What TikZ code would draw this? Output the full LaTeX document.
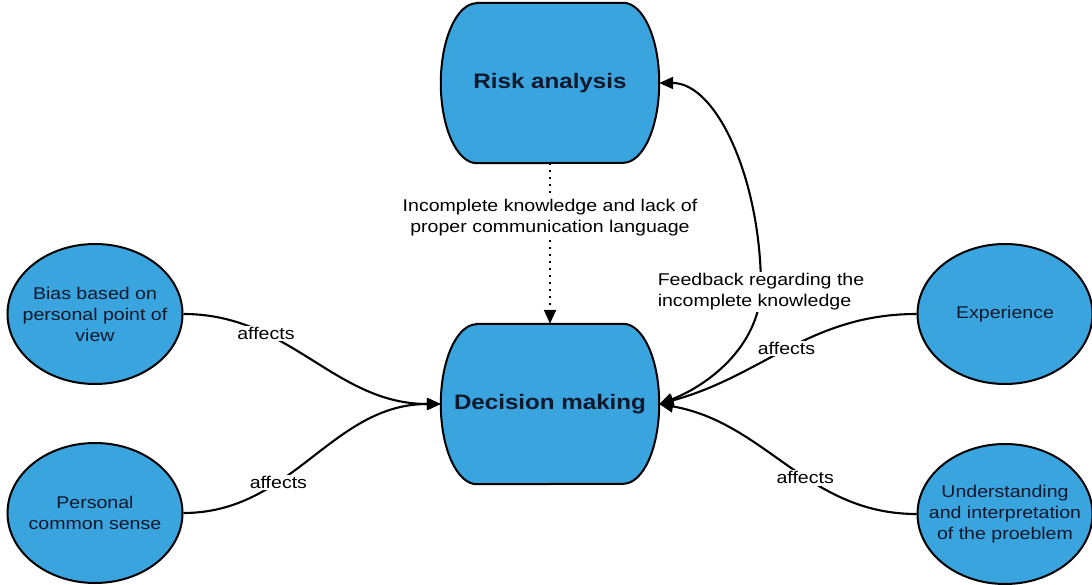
\documentclass[tikz,border=0pt]{standalone}
\usepackage{fontspec}
\setmainfont{Liberation Sans}[FakeStretch=1.15]
\usetikzlibrary{shapes.geometric,arrows.meta,positioning,backgrounds,calc}
\definecolor{nodeblue}{RGB}{58,164,222}
\definecolor{inkblue}{RGB}{16,24,44}
\newcommand{\pillshape}[1]{%
  \draw[fill=nodeblue, line width=2pt]
    ($(#1.north west)+(36,0)$) -- ($(#1.north east)+(-36,0)$)
    arc[start angle=90, end angle=-90, x radius=36, y radius=80]
    -- ($(#1.south west)+(36,0)$)
    arc[start angle=270, end angle=90, x radius=36, y radius=80] -- cycle;}

\begin{document}
\begin{tikzpicture}[x=1pt, y=1pt,
  factor/.style={draw, ellipse, fill=nodeblue, line width=2pt, minimum width=175pt, minimum height=140pt, inner xsep=-30pt, inner ysep=-15pt, align=center, text=inkblue, font=\fontsize{17}{21}\selectfont},
  stage/.style={minimum width=218pt, minimum height=160pt, text=inkblue, font=\bfseries\fontsize{21}{25}\selectfont},
  link/.style={line width=2.1pt, -{Triangle[length=14pt,width=12pt]}},
  tag/.style={fill=white, inner sep=1.5pt, align=left, font=\fontsize{17}{21}\selectfont}]
\useasboundingbox (0,0) rectangle (1092,584);

% Main stages
\node[stage] (risk) at (550,501) {Risk analysis};
\node[stage] (decision) at (550,180) {Decision making};
\begin{scope}[on background layer]
  \pillshape{risk}
  \pillshape{decision}
\end{scope}

% Influencing factors
\node[factor] (bias) at (95,270) {Bias based on\\personal point of\\view};
\node[factor] (sense) at (95,71) {Personal\\common sense};
\node[factor] (exper) at (1005,270) {Experience};
\node[factor] (underst) at (1005,70) {Understanding\\and interpretation\\of the proeblem};

% Factor links
\draw[link] (bias.east) to[out=0, in=180] node[tag, pos=0.3] {affects} (decision.west);
\draw[link] (sense.east) to[out=0, in=180] node[tag, pos=0.35] {affects} (decision.west);
\draw[link] (exper.west) to[out=180, in=15] node[tag, pos=0.5] {affects} (decision.east);
\draw[link] (underst.west) to[out=180, in=-10] node[tag, pos=0.42] {affects} (decision.east);

% Risk analysis to decision
\draw[link, dash pattern=on 2pt off 5pt] (risk.south) -- node[tag, pos=0.34, align=center] {Incomplete knowledge and lack of\\proper communication language} (decision.north);

% Feedback loop
\coordinate (fbturn) at (761,292);
\draw[line width=2.1pt, {Triangle[length=14pt,width=12pt]}-{Triangle[length=14pt,width=12pt]}]
  (decision.east) .. controls +(40,15) and +(-5,-62) .. (fbturn)
  .. controls +(1,110) and +(58,0) .. (risk.east);
\node[tag] (fbtext) at (fbturn) {Feedback regarding the\\incomplete knowledge};
\end{tikzpicture}
\end{document}
